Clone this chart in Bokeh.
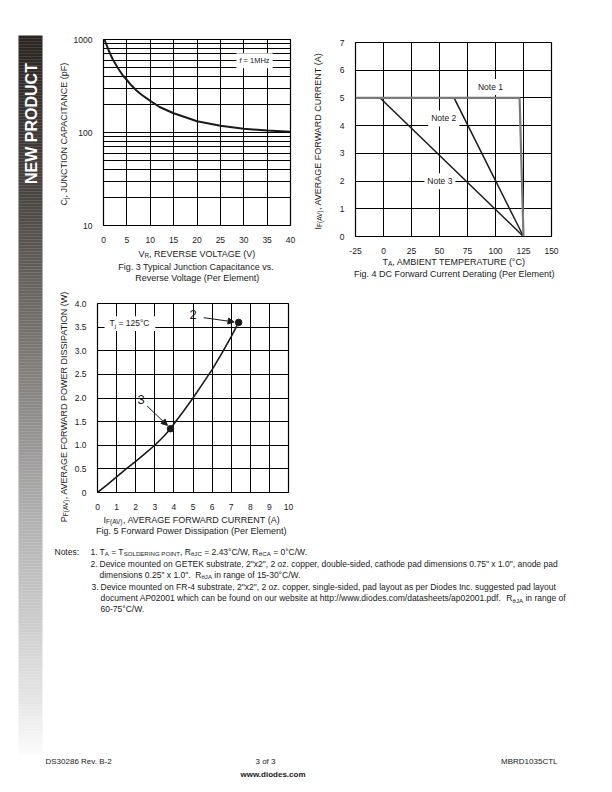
import math
from bokeh.plotting import figure
from bokeh.models import (Range1d, Label, Arrow, NormalHead, BoxAnnotation,
                          FixedTicker, Spacer)
from bokeh.layouts import row, column
from bokeh.embed import file_html
from bokeh.resources import INLINE

# ---------------- data ----------------
# Fig. 3  junction capacitance vs reverse voltage (log y)
vr_volts = [0.2, 1, 1.5, 2, 3, 4, 5, 6, 7, 8, 10, 12, 15, 18, 20, 25, 30, 35, 40]
cj_pf = [1000, 790, 690, 610, 500, 420, 367, 320, 285, 258, 219, 188, 161, 143, 132, 118, 110, 105, 102]
fig3_x_ticks = [0, 5, 10, 15, 20, 25, 30, 35, 40]
fig3_y_ticks = [10, 100, 1000]
fig3_y_minor = [20, 30, 40, 50, 60, 70, 80, 90, 200, 300, 400, 500, 600, 700, 800, 900]

# Fig. 4  DC forward current derating
ta_ticks = [-25, 0, 25, 50, 75, 100, 125, 150]
ta_labels = ["-25", "0", "25", "50", "75", "100", "125", "150"]
if_ticks = [0, 1, 2, 3, 4, 5, 6, 7]
note1_ta = [-25, 121.5, 125]
note1_if = [5, 5, 0]
note2_ta = [63, 125]
note2_if = [5, 0]
note3_ta = [-3, 125]
note3_if = [5, 0]

# Fig. 5  forward power dissipation
iav_amps = [0, 0.5, 1, 1.5, 2, 2.5, 3, 3.5, 3.82, 4, 4.5, 5, 5.5, 6, 6.5, 7, 7.39]
pav_watts = [0, 0.16, 0.33, 0.5, 0.66, 0.83, 1.0, 1.2, 1.35, 1.45, 1.72, 2.0, 2.3, 2.6, 2.94, 3.3, 3.6]
marked_i = [3.82, 7.39]
marked_p = [1.35, 3.6]
pf_ticks = [0, 0.5, 1, 1.5, 2, 2.5, 3, 3.5, 4]
pf_labels = ["0", "0.5", "1.0", "1.5", "2.0", "2.5", "3.0", "3.5", "4.0"]
iav_ticks = [0, 1, 2, 3, 4, 5, 6, 7, 8, 9, 10]

# ---------------- styling helpers ----------------
FONT = "Liberation Sans"
TXT = "#1a1a1a"
SUB = 0.72
SUBDY = 0.25

_W = {' ': 278, '!': 278, '"': 355, '#': 556, '%': 889, '&': 667, "'": 191, '(': 333, ')': 333,
      ',': 278, '-': 333, '.': 278, '/': 278, ':': 278, ';': 278, '=': 584, '°': 400, 'θ': 556}
for _c in "0123456789":
    _W[_c] = 556
_W.update(dict(A=667, B=667, C=722, D=722, E=667, F=611, G=778, H=722, I=278, J=500, K=667, L=556,
               M=833, N=722, O=778, P=667, Q=778, R=722, S=667, T=611, U=722, V=667, W=944, X=667,
               Y=667, Z=611))
_W.update(dict(a=556, b=556, c=500, d=556, e=556, f=278, g=556, h=556, i=222, j=222, k=500, l=222,
               m=833, n=556, o=556, p=556, q=556, r=333, s=500, t=278, u=556, v=500, w=722, x=500,
               y=500, z=500))


def tw(s, size):
    return sum(_W.get(c, 556) for c in s) * size / 1000.0


def put(p, frame, px, py, text, size, angle=0.0, align="left", baseline="alphabetic",
        bold=False, color=TXT):
    fl, ft, fr, fb = frame
    p.add_layout(Label(x=px - fl, y=fb - py, x_units="screen", y_units="screen", text=text,
                       angle=angle, text_font=FONT, text_font_size=f"{size:.2f}px",
                       text_align=align, text_baseline=baseline, text_color=color,
                       text_font_style="bold" if bold else "normal"))


def rich(p, frame, x, y, pieces, size, align="left", vertical=False):
    ws = [tw(t, size * (SUB if k == "s" else 1)) for t, k in pieces]
    total = sum(ws)
    pos = {"left": 0.0, "center": -total / 2, "right": -total}[align]
    for (t, k), w in zip(pieces, ws):
        fs = size * (SUB if k == "s" else 1)
        lead = tw(t[:len(t) - len(t.lstrip(" "))], fs)
        txt = t.strip(" ")
        d = SUBDY * size if k == "s" else 0
        if txt:
            if not vertical:
                put(p, frame, x + pos + lead, y + d, txt, fs)
            else:
                put(p, frame, x + d, y - (pos + lead), txt, fs, angle=math.pi / 2)
        pos += w


def no_align(p):
    try:
        p.frame_align = False
    except Exception:
        pass


def chart(box, frame, x_range, y_range, y_axis_type="linear"):
    x0, y0, x1, y1 = box
    fl, ft, fr, fb = frame
    p = figure(width=x1 - x0, height=y1 - y0, x_range=x_range, y_range=y_range,
               y_axis_type=y_axis_type, output_backend="svg", toolbar_location=None,
               min_border_left=fl - x0, min_border_right=x1 - fr,
               min_border_top=ft - y0, min_border_bottom=y1 - fb)
    no_align(p)
    p.outline_line_color = "black"
    p.outline_line_width = 1.2
    p.background_fill_color = "white"
    p.border_fill_color = "white"
    for ax in p.axis:
        ax.axis_line_color = None
        ax.major_tick_line_color = None
        ax.minor_tick_line_color = None
        ax.major_label_text_font = FONT
        ax.major_label_text_font_size = "8.5px"
        ax.major_label_text_color = TXT
        ax.major_label_standoff = 5
    p.grid.grid_line_color = "black"
    p.grid.grid_line_width = 1.0
    return p


def blank(box):
    x0, y0, x1, y1 = box
    p = figure(width=x1 - x0, height=y1 - y0, x_range=Range1d(x0, x1), y_range=Range1d(y1, y0),
               output_backend="svg", toolbar_location=None, min_border=0,
               x_axis_location=None, y_axis_location=None)
    no_align(p)
    p.grid.visible = False
    p.outline_line_color = None
    p.background_fill_color = "white"
    p.border_fill_color = "white"
    return p


# ---------------- Fig. 3 ----------------
B3 = (70, 0, 305, 245)
F3 = (103, 39, 290, 227)
f3 = chart(B3, F3, Range1d(0, 40), Range1d(10, 1000), y_axis_type="log")
f3.xaxis.ticker = FixedTicker(ticks=fig3_x_ticks)
f3.yaxis.ticker = FixedTicker(ticks=fig3_y_ticks, minor_ticks=fig3_y_minor)
f3.yaxis.major_label_overrides = {t: str(t) for t in fig3_y_ticks}
f3.ygrid.minor_grid_line_color = "black"
f3.ygrid.minor_grid_line_width = 1.0
f3.line(vr_volts, cj_pf, line_color="#1a1a1a", line_width=2)
f3.add_layout(Label(x=32.3, y=590, text="f = 1MHz", text_font=FONT, text_font_size="7.5px",
                    text_align="center", text_baseline="middle", text_color=TXT,
                    background_fill_color="white", padding=3))

YL3 = (44, 0, 70, 290)
ylab3 = blank(YL3)
rich(ylab3, YL3, 63, 133, [("C", "n"), ("j", "s"), (", JUNCTION CAPACITANCE (pF)", "n")], 9,
     align="center", vertical=True)
C3 = (70, 245, 305, 290)
cap3 = blank(C3)
rich(cap3, C3, 197, 253, [("V", "n"), ("R", "s"), (", REVERSE VOLTAGE (V)", "n")], 9, align="center")
rich(cap3, C3, 197, 266, [("Fig. 3  Typical Junction Capacitance vs.", "n")], 9, align="center")
rich(cap3, C3, 197, 277, [("Reverse Voltage (Per Element)", "n")], 9, align="center")

# ---------------- Fig. 4 ----------------
B4 = (328, 0, 612, 256)
F4 = (355, 42, 551, 237)
f4 = chart(B4, F4, Range1d(-25, 150), Range1d(0, 7))
f4.xaxis.ticker = FixedTicker(ticks=ta_ticks)
f4.xaxis.major_label_overrides = {t: l for t, l in zip(ta_ticks, ta_labels)}
f4.yaxis.ticker = FixedTicker(ticks=if_ticks)
f4.line(note3_ta, note3_if, line_color="#1a1a1a", line_width=1.5)
f4.line(note2_ta, note2_if, line_color="#1a1a1a", line_width=1.5)
f4.line(note1_ta, note1_if, line_color="#7a7a7a", line_width=2.2)
for txt, lx, ly in [("Note 1", 95.5, 5.39), ("Note 2", 53.8, 4.26), ("Note 3", 50.3, 1.99)]:
    f4.add_layout(Label(x=lx, y=ly, text=txt, text_font=FONT, text_font_size="8.5px",
                        text_align="center", text_baseline="middle", text_color=TXT,
                        background_fill_color="white", padding=3))

YL4 = (305, 0, 328, 290)
ylab4 = blank(YL4)
rich(ylab4, YL4, 317, 140, [("I", "n"), ("F(AV)", "s"), (", AVERAGE FORWARD CURRENT (A)", "n")], 9,
     align="center", vertical=True)
C4 = (328, 256, 612, 290)
cap4 = blank(C4)
rich(cap4, C4, 454, 261, [("T", "n"), ("A", "s"), (", AMBIENT TEMPERATURE (°C)", "n")], 9, align="center")
rich(cap4, C4, 455, 273, [("Fig. 4  DC Forward Current Derating (Per Element)", "n")], 9, align="center")

# ---------------- Fig. 5 ----------------
B5 = (70, 290, 305, 512)
F5 = (97, 303, 288, 495)
f5 = chart(B5, F5, Range1d(0, 10), Range1d(0, 4))
f5.xaxis.ticker = FixedTicker(ticks=iav_ticks)
f5.yaxis.ticker = FixedTicker(ticks=pf_ticks)
f5.yaxis.major_label_overrides = {t: l for t, l in zip(pf_ticks, pf_labels)}
f5.line(iav_amps, pav_watts, line_color="#1a1a1a", line_width=1.6)
f5.scatter(marked_i, marked_p, size=6.5, color="#1a1a1a")
f5.add_layout(BoxAnnotation(left=0.37, right=3.03, bottom=3.42, top=3.73, fill_color="white",
                            fill_alpha=1.0, line_color=None))
rich(f5, F5, 129, 325.5, [("T", "n"), ("j", "s"), (" = 125°C", "n")], 8.5, align="center")
f5.add_layout(Label(x=5.0, y=3.77, text="2", text_font=FONT, text_font_size="13px",
                    text_align="center", text_baseline="middle", text_color=TXT))
f5.add_layout(Label(x=2.28, y=1.96, text="3", text_font=FONT, text_font_size="13px",
                    text_align="center", text_baseline="middle", text_color=TXT))
f5.add_layout(Arrow(end=NormalHead(size=6, fill_color="#1a1a1a", line_color="#1a1a1a"),
                    x_start=5.56, y_start=3.70, x_end=7.15, y_end=3.61,
                    line_color="#1a1a1a", line_width=1))
f5.add_layout(Arrow(end=NormalHead(size=6, fill_color="#1a1a1a", line_color="#1a1a1a"),
                    x_start=2.6, y_start=1.83, x_end=3.66, y_end=1.42,
                    line_color="#1a1a1a", line_width=1))

YL5 = (44, 290, 70, 540)
ylab5 = blank(YL5)
rich(ylab5, YL5, 63, 405, [("P", "n"), ("F(AV)", "s"), (", AVERAGE FORWARD POWER DISSIPATION (W)", "n")], 9,
     align="center", vertical=True)
C5 = (70, 512, 305, 540)
cap5 = blank(C5)
rich(cap5, C5, 192, 519, [("I", "n"), ("F(AV)", "s"), (", AVERAGE FORWARD CURRENT (A)", "n")], 9,
     align="center")
rich(cap5, C5, 192, 530, [("Fig. 5  Forward Power Dissipation (Per Element)", "n")], 9, align="center")

# ---------------- side bar ----------------
SB = (0, 0, 44, 792)
side = blank(SB)
stops = [(35, (42, 37, 34)), (180, (70, 65, 62)), (300, (108, 104, 101)), (420, (145, 143, 142)),
         (520, (178, 178, 178)), (620, (204, 204, 204)), (700, (230, 230, 230)), (754, (252, 252, 252))]
tops, bots, cols = [], [], []
y = 35.0
while y < 754:
    for (ya, ca), (yb, cb) in zip(stops[:-1], stops[1:]):
        if ya <= y <= yb:
            t = (y - ya) / (yb - ya)
            c = tuple(int(round(ca[i] + (cb[i] - ca[i]) * t)) for i in range(3))
            break
    tops.append(y)
    bots.append(min(y + 3.2, 754))
    cols.append("#%02x%02x%02x" % c)
    y += 3
side.quad(left=18, right=42, top=tops, bottom=bots, fill_color=cols, line_color=None)
put(side, SB, 30.5, 123, "NEW PRODUCT", 16, angle=math.pi / 2, align="center", baseline="middle",
    bold=True, color="white")

# ---------------- notes + footer ----------------
NF = (44, 540, 612, 792)
notes = blank(NF)
NS = 8.5
rich(notes, NF, 54, 551, [("Notes:", "n")], NS)
rich(notes, NF, 90, 551, [("1.", "n")], NS)
rich(notes, NF, 99, 551, [("T", "n"), ("A", "s"), (" = T", "n"), ("SOLDERING POINT", "s"), (", R", "n"),
                          ("θJC", "s"), (" = 2.43°C/W, R", "n"), ("θCA", "s"), (" = 0°C/W.", "n")], NS)
rich(notes, NF, 90, 563, [("2.", "n")], NS)
rich(notes, NF, 99, 563, [("Device mounted on GETEK substrate, 2\"x2\", 2 oz. copper, double-sided, "
                           "cathode pad dimensions 0.75\" x 1.0\", anode pad", "n")], NS)
rich(notes, NF, 99, 574, [("dimensions 0.25\" x 1.0\".", "n"), ("  R", "n"), ("θJA", "s"),
                          (" in range of 15-30°C/W.", "n")], NS)
rich(notes, NF, 91, 586, [("3.", "n")], NS)
rich(notes, NF, 100, 586, [("Device mounted on FR-4 substrate, 2\"x2\", 2 oz. copper, single-sided, "
                            "pad layout as per Diodes Inc. suggested pad layout", "n")], NS)
rich(notes, NF, 100, 597.5, [("document AP02001 which can be found on our website at "
                              "http://www.diodes.com/datasheets/ap02001.pdf.", "n"), ("  R", "n"),
                             ("θJA", "s"), (" in range of", "n")], NS)
rich(notes, NF, 100, 608.5, [("60-75°C/W.", "n")], NS)

rich(notes, NF, 45, 761, [("DS30286 Rev. B-2", "n")], 8)
rich(notes, NF, 265, 761, [("3 of 3", "n")], 8, align="center")
rich(notes, NF, 557, 761, [("MBRD1035CTL", "n")], 8, align="right")
put(notes, NF, 272.5, 774, "www.diodes.com", 8, align="center", bold=True)

top = row(row(ylab3, column(f3, cap3)), row(ylab4, column(f4, cap4)))
mid = row(ylab5, column(f5, cap5), Spacer(width=307, height=250))
layout = row(side, column(top, mid, notes))

with open("out.html", "w") as fh:
    fh.write(file_html(layout, INLINE))
